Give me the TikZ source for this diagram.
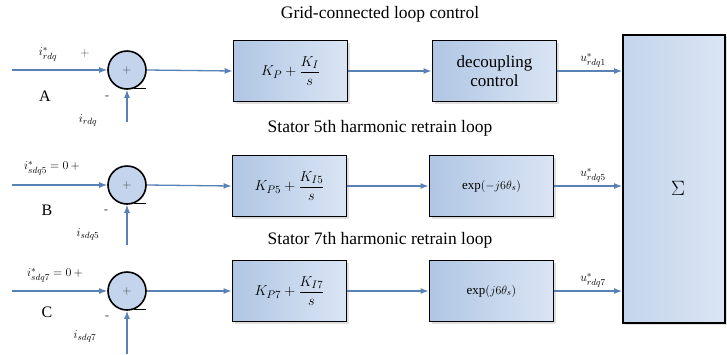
\documentclass[tikz,border=0pt]{standalone}
\usepackage{amsmath}
\usepackage{fontspec}
\setmainfont{Liberation Serif}
\usetikzlibrary{arrows.meta,shadows}
\definecolor{wire}{RGB}{88,130,182}
\definecolor{boxL}{RGB}{176,198,228}
\definecolor{boxR}{RGB}{218,229,244}
\definecolor{sumfill}{RGB}{196,212,236}
\tikzset{
  blk/.style={draw=black, line width=1.8pt, minimum width=114pt, minimum height=61pt,
    left color=boxL, right color=boxR, align=center,
    drop shadow={opacity=0.25, shadow xshift=2pt, shadow yshift=-2pt}},
  blk2/.style={blk, minimum width=124pt},
  sumnode/.style={circle, draw=black, line width=1.6pt, fill=sumfill, minimum size=38pt, inner sep=0pt},
  tailline/.style={black, line width=1.6pt},
  wireline/.style={draw=wire, line width=1.3pt, -{Latex[length=8pt,width=6pt]}},
  ttl/.style={font=\fontsize{17.5}{19}\selectfont},
  lbl/.style={font=\fontsize{12.5}{13}\selectfont, inner sep=0pt},
  sgn/.style={font=\fontsize{13}{14}\selectfont, text=black!70, inner sep=0pt},
  plusin/.style={text=black!75, font=\fontsize{13}{13}\selectfont, inner sep=0pt},
  rowlbl/.style={font=\fontsize{16}{17}\selectfont, inner sep=0pt}
}
\begin{document}
\begin{tikzpicture}[x=1pt,y=-1pt]
\useasboundingbox (0,0) rectangle (727,354);
\fill[white] (0,0) rectangle (727,354);

% titles
\node[ttl] (t1) at (380,14) {Grid-connected loop control};
\node[ttl] (t2) at (380,128) {Stator 5th harmonic retrain loop};
\node[ttl] (t3) at (380,240) {Stator 7th harmonic retrain loop};

% sigma box
\node[draw=black, line width=1.8pt, left color=boxL!75, right color=boxR, minimum width=102pt, minimum height=288pt,
  drop shadow={opacity=0.25, shadow xshift=2pt, shadow yshift=-2pt}] (sig) at (674,179) {};
\node[font=\fontsize{22}{24}\selectfont] (sigt) at (678,188) {$\Sigma$};

% row A
\node[sumnode] (sa) at (127,70) {};
\node[plusin] (sap) at (127,70) {$+$};
\draw[tailline] (sa.-70) -- ++(12,0);
\node[blk] (pa) at (290.5,71) {\fontsize{15}{16}\selectfont $K_P+\dfrac{K_I}{s}$};
\node[blk2, font=\fontsize{17}{19}\selectfont] (da) at (494.5,71) {decoupling\\control};
\coordinate (ia) at (12,70);
\coordinate (fa) at (127,122);
\draw[wireline] (ia) -- (sa.west);
\draw[wireline] (fa) -- (sa.south);
\draw[wireline] (sa.east) -- (pa.west);
\draw[wireline] (pa.east) -- (da.west);
\draw[wireline] (da.east) -- (sig.west |- da.east);
\node[lbl] (la1) at (48,54) {$i^{*}_{rdq}$};
\node[sgn] (la2) at (85,53) {$+$};
\node[rowlbl] (la3) at (45,96) {A};
\node[sgn] (la4) at (107,98) {-};
\node[lbl] (la5) at (88,120) {$i_{rdq}$};
\node[lbl] (la6) at (593,60) {$u^{*}_{rdq1}$};

% row B
\node[sumnode] (sb) at (127,185) {};
\node[plusin] (sbp) at (127,185) {$+$};
\draw[tailline] (sb.-70) -- ++(12,0);
\node[blk] (pb) at (289.5,186) {\fontsize{15}{16}\selectfont $K_{P5}+\dfrac{K_{I5}}{s}$};
\node[blk2] (db) at (491.5,186) {\fontsize{13}{14}\selectfont $\exp(-j6\theta_s)$};
\coordinate (ib) at (12,185);
\coordinate (fb) at (127,245);
\draw[wireline] (ib) -- (sb.west);
\draw[wireline] (fb) -- (sb.south);
\draw[wireline] (sb.east) -- (pb.west);
\draw[wireline] (pb.east) -- (db.west);
\draw[wireline] (db.east) -- (sig.west |- db.east);
\node[lbl] (lb1) at (52,168) {$i^{*}_{sdq5}=0$\,$+$};
\node[rowlbl] (lb3) at (47,210) {B};
\node[sgn] (lb4) at (106,212) {-};
\node[lbl] (lb5) at (88,234) {$i_{sdq5}$};
\node[lbl] (lb6) at (593,175) {$u^{*}_{rdq5}$};

% row C
\node[sumnode] (sc) at (127,291) {};
\node[plusin] (scp) at (127,291) {$+$};
\draw[tailline] (sc.-70) -- ++(12,0);
\node[blk] (pc) at (289.5,291) {\fontsize{15}{16}\selectfont $K_{P7}+\dfrac{K_{I7}}{s}$};
\node[blk2] (dc) at (491.5,291) {\fontsize{13}{14}\selectfont $\exp(j6\theta_s)$};
\coordinate (ic) at (12,291);
\coordinate (fc) at (127,354);
\draw[wireline] (ic) -- (sc.west);
\draw[wireline] (fc) -- (sc.south);
\draw[wireline] (sc.east) -- (pc.west);
\draw[wireline] (pc.east) -- (dc.west);
\draw[wireline] (dc.east) -- (sig.west |- dc.east);
\node[lbl] (lc1) at (55,275) {$i^{*}_{sdq7}=0$\,$+$};
\node[rowlbl] (lc3) at (47,312) {C};
\node[sgn] (lc4) at (107,318) {-};
\node[lbl] (lc5) at (85,336) {$i_{sdq7}$};
\node[lbl] (lc6) at (593,280) {$u^{*}_{rdq7}$};
\end{tikzpicture}
\end{document}
